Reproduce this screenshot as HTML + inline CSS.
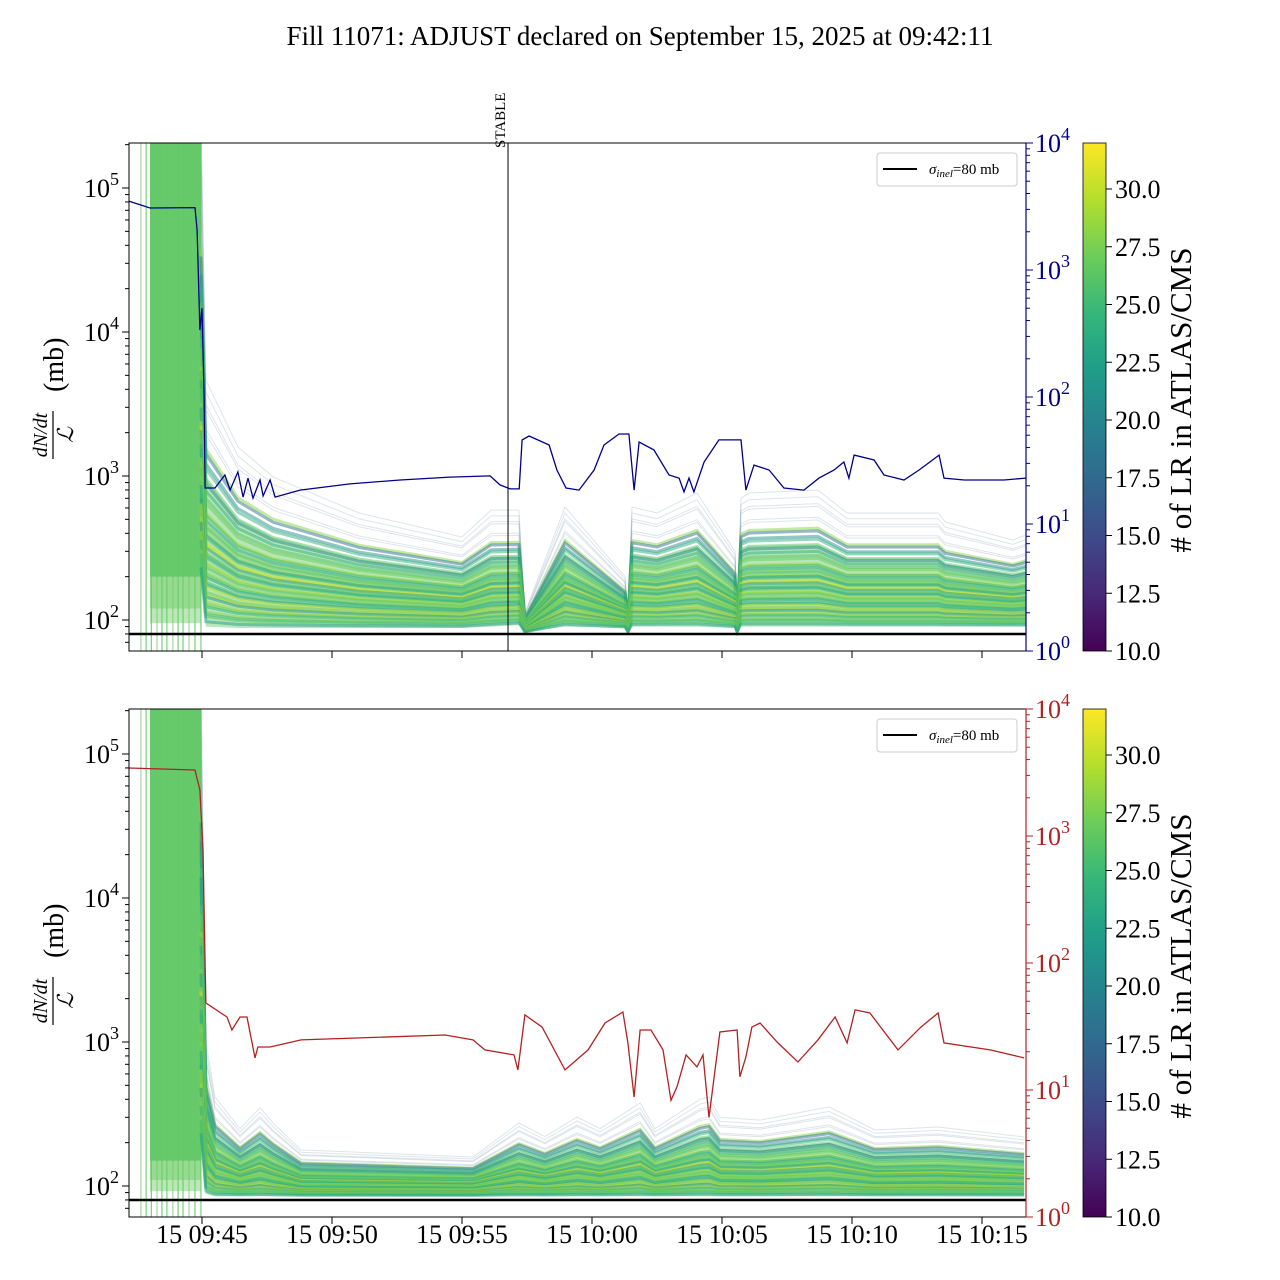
<!DOCTYPE html>
<html><head><meta charset="utf-8"><style>
html,body{margin:0;padding:0;background:#fff}
svg{display:block;font-family:"Liberation Serif",serif}
</style></head><body>
<svg id="chart" width="1280" height="1280" viewBox="0 0 1280 1280" xmlns="http://www.w3.org/2000/svg">
<text x="640" y="45" text-anchor="middle" font-size="27">Fill 11071: ADJUST declared on September 15, 2025 at 09:42:11</text>
<g id="layer"></g>
</svg>
<script>
// ---- data (time in minutes after 09:40) ----
const xTickTimes=[5,10,15,20,25,30,35];
const xTickLabels=["15 09:45","15 09:50","15 09:55","15 10:00","15 10:05","15 10:10","15 10:15"];
const preTimes=[2.65,2.85,3.05,3.27,3.46,3.65,3.88,4.08,4.27,4.5,4.73,4.96];
const preBlockStart=3.0, preBlockEnd=4.96;
const topPreLow=[200,120,95];
const botPreLow=[150,110,92];
const topBandT=[4.96,5.15,6.38,7.73,11.04,15.0,16.12,17.19,17.42,18.96,21.27,21.38,21.54,22.5,24.04,25.5,25.58,25.73,26.04,28.69,29.81,33.31,33.58,36.19,36.69];
const topBandUpper=[3e5,4640,1590,985,553,377,580,580,112,609,200,112,609,553,762,300,112,700,762,800,553,553,480,359,389];
const topBandLow=[200,90,88,88,88,88,90,92,82,90,88,82,90,90,90,88,82,90,90,90,90,90,90,90,90];
const botBandT=[4.96,5.15,5.5,6.46,7.23,7.73,8.81,15.42,17.19,18.19,19.42,20.31,21.85,22.42,24.15,24.5,24.92,26.46,29.12,30.88,33.31,36.62];
const botBandUpper=[3e5,1000,415,250,350,274,178,159,274,220,301,250,377,250,400,415,300,287,354,245,257,219];
const botBandLow=[200,88,85,85,85,85,85,85,85,85,85,85,85,85,85,85,85,85,85,85,85,85];
const fractions=[0.02,0.04,0.06,0.08,0.1,0.12,0.14,0.16,0.18,0.2,0.22,0.24,0.26,0.28,0.3,0.32,0.34,0.36,0.38,0.4,0.43,0.46,0.5,0.55,0.6,0.66,0.72,0.8,0.88,0.95,1.0,0.05,0.09,0.13,0.17,0.21,0.25,0.29,0.33,0.37,0.41,0.45,0.52,0.58,0.64,0.7,0.78,0.9];
const lrValues=[22,26,28,24,29,21,27,30,25,23,28,26,29,24,27,22,30,25,28,26,23,29,27,24,26,21,28,19,17,16,15,25,27,29,23,26,28,24,30,22,27,25,26,20,24,18,17,15];
const blueT=[2.19,3.0,4.73,4.81,4.92,5.0,5.08,5.12,5.5,5.88,6.08,6.38,6.58,6.77,6.96,7.23,7.35,7.62,7.81,8.77,10.69,12.62,14.54,16.08,16.46,16.85,17.2,17.31,17.58,18.35,18.65,19.0,19.5,20.08,20.46,21.04,21.42,21.62,21.81,22.38,22.96,23.35,23.54,23.73,23.92,24.31,24.88,25.73,25.92,26.23,26.81,27.38,28.15,28.73,29.31,29.69,29.88,30.08,30.85,31.23,32.0,32.58,33.35,33.54,34.31,35.85,36.69];
const blueV=[3490,3080,3100,2065,337,500,100,19.2,19.2,24.3,18.5,25.7,16.3,23,16,22.2,16.6,22.2,16.3,18.5,20.7,22.2,23.4,23.9,20.3,18.9,18.9,45.9,49.3,41.9,26.6,19.2,18.5,26.6,41.9,51.1,51.1,18.5,44.2,38.3,24.3,23.0,17.9,23.0,17.9,30.8,45.9,45.9,18.5,29.1,26.6,19.2,18.5,23.0,26.6,30.8,23.0,34.9,31.9,24.3,22.2,26.6,34.9,23.0,22.2,22.2,23.0];
const redT=[2.19,4.73,4.92,5.04,5.12,5.15,5.96,6.15,6.46,6.73,7.04,7.15,7.62,8.81,14.35,15.42,15.88,17.0,17.15,17.42,18.08,18.96,19.85,20.5,21.19,21.38,21.62,21.85,22.27,22.73,23.04,23.27,23.62,24.04,24.27,24.5,24.92,25.58,25.69,25.92,26.15,26.46,27.15,27.92,28.69,29.35,29.81,30.12,30.69,31.77,32.65,33.31,33.54,35.31,36.62];
const redV=[3430,3310,2300,776,100,48.4,37.6,29.7,37.6,37.6,17.9,21.8,21.8,24.8,27.1,24.8,20.7,18.9,14.4,39.0,31.3,14.4,20.7,33.7,41.1,23.5,8.8,29.7,29.7,20.7,8.3,10.6,18.9,15.2,18.9,6.1,28.6,29.7,12.7,18.2,31.3,33.7,23.5,16.6,24.8,37.6,23.5,42.7,40.4,20.7,31.3,40.4,23.5,20.7,17.9];
const stableTime=16.77;
const sigmaInel=80;
const cbTicks=[10,12.5,15,17.5,20,22.5,25,27.5,30];

// ---- scales ----
const X0=129,X1=1026;
const xOf=t=>202+(t-5)*26;
const yL=(v,dy)=>620+dy-(Math.log10(v)-2)*144;
const yR=(v,dy)=>651+dy-Math.log10(v)*127;
const cbY=(v,dy)=>651+dy-(v-10)*(462/20);
const VIR=[[68,1,84],[72,40,120],[62,74,137],[49,104,142],[38,130,142],[31,158,137],[53,183,121],[109,205,89],[180,222,44],[253,231,37]];
function vir(u){u=Math.max(0,Math.min(1,u));const p=u*(VIR.length-1),i=Math.min(Math.floor(p),VIR.length-2),f=p-i;const c=VIR[i].map((a,k)=>Math.round(a+(VIR[i+1][k]-a)*f));return `rgb(${c[0]},${c[1]},${c[2]})`;}
const NS="http://www.w3.org/2000/svg";
const layer=document.getElementById('layer');
function mk(tag,attrs,parent){const e=document.createElementNS(NS,tag);for(const k in attrs)e.setAttribute(k,attrs[k]);(parent||layer).appendChild(e);return e;}

function panel(dy,tBand,upArr,lowArr,preLow,lineT,lineV,lineColor,pname,showXLabels,showStable){
  const g=mk('g',{});
  
  
  const cp=mk('clipPath',{id:'clip'+dy},g);
  mk('rect',{x:X0,y:143+dy,width:X1-X0,height:508},cp);
  const plot=mk('g',{'clip-path':`url(#clip${dy})`},g);
  // pre-ramp vertical lines
  preTimes.forEach((t,i)=>{
    const l=mk('line',{x1:xOf(t),x2:xOf(t),y1:143+dy,y2:651+dy,stroke:i%3===0?'#8fd18a':'#5cc863','stroke-width':1},plot);
    
    
  });
  // pre-ramp dense block
  const xa=xOf(preBlockStart),xb=xOf(preBlockEnd);
  preLow.forEach((v,i)=>{
    const r=mk('rect',{x:xa,y:143+dy,width:xb-xa,height:yL(v,dy)-143-dy,fill:i===0?'#4cbf6b':'#6acb63','fill-opacity':i===0?0.9:0.45},plot);
    
    
  });
  // band fill
  let fd='';
  tBand.forEach((t,k)=>{const lo=Math.log10(lowArr[k]),hi=Math.log10(upArr[k]);fd+=(k?'L':'M')+xOf(t).toFixed(1)+','+yL(Math.pow(10,lo+(hi-lo)*0.6),dy).toFixed(1);});
  for(let k=tBand.length-1;k>=0;k--){fd+='L'+xOf(tBand[k]).toFixed(1)+','+yL(lowArr[k],dy).toFixed(1);}
  const bf=mk('path',{d:fd+'Z',fill:'#5ec962','fill-opacity':0.45},plot);
  
  
  // band lines
  const order=fractions.map((f,i)=>i).sort((a,b)=>fractions[b]-fractions[a]);
  order.forEach(i=>{
    const f=fractions[i];
    let d='';
    tBand.forEach((t,k)=>{
      const lo=Math.log10(lowArr[k]),hi=Math.log10(upArr[k]);
      const v=Math.pow(10,lo+(hi-lo)*f);
      d+=(k?'L':'M')+xOf(t).toFixed(1)+','+yL(v,dy).toFixed(1);
    });
    const col=f>0.75?'rgb(120,150,170)':vir((lrValues[i]-10)/22);
    const p=mk('path',{d:d,fill:'none',stroke:col,'stroke-width':f>0.75?1:3,'stroke-opacity':f>0.75?0.25:0.5},plot);
    
    
  });
  // sigma line
  const s=mk('line',{x1:X0,x2:X1,y1:yL(sigmaInel,dy),y2:yL(sigmaInel,dy),stroke:'#000','stroke-width':2.5},plot);
  
  
  // luminosity line
  let d='';lineT.forEach((t,k)=>{d+=(k?'L':'M')+xOf(t).toFixed(1)+','+yR(lineV[k],dy).toFixed(1);});
  const ll=mk('path',{d:d,fill:'none',stroke:lineColor,'stroke-width':1.3},plot);
  
  
  if(showStable){
    const sl=mk('line',{x1:xOf(stableTime),x2:xOf(stableTime),y1:143+dy,y2:651+dy,stroke:'#000','stroke-width':1},g);
    
    
    const st=mk('text',{x:0,y:0,'font-size':15,transform:`translate(${xOf(stableTime)-3},148) rotate(-90)`},g);
    st.textContent='STABLE';
    
    
  }
  // frame
  mk('rect',{x:X0,y:143+dy,width:X1-X0,height:508,fill:'none',stroke:'#000','stroke-width':1},g);
  // x ticks
  xTickTimes.forEach((t,i)=>{
    mk('line',{x1:xOf(t),x2:xOf(t),y1:651+dy,y2:658+dy,stroke:'#000'},g);
    if(showXLabels){const tx=mk('text',{x:xOf(t),y:1243,'text-anchor':'middle','font-size':26},g);tx.textContent=xTickLabels[i];
      }
  });
  // left y ticks
  for(let e=1;e<=5;e++){for(let m=1;m<10;m++){const v=m*Math.pow(10,e);const y=yL(v,dy);if(y<143+dy||y>651+dy)continue;
    mk('line',{x1:X0-(m===1?7:4),x2:X0,y1:y,y2:y,stroke:'#000'},g);
    if(m===1){const tx=mk('text',{x:X0-10,y:y+9,'text-anchor':'end','font-size':26},g);
      tx.innerHTML=`10<tspan dy="-12" font-size="18">${e}</tspan>`;
      }}}
  // right y ticks
  for(let e=0;e<=4;e++){for(let m=1;m<10;m++){const v=m*Math.pow(10,e);const y=yR(v,dy);if(y<142+dy||y>652+dy)continue;
    mk('line',{x1:X1,x2:X1+(m===1?7:4),y1:y,y2:y,stroke:lineColor},g);
    if(m===1){const tx=mk('text',{x:X1+9,y:y+9,'font-size':26,fill:lineColor},g);
      tx.innerHTML=`10<tspan dy="-12" font-size="18">${e}</tspan>`;
      }}}
  mk('line',{x1:X1,x2:X1,y1:143+dy,y2:651+dy,stroke:lineColor,'stroke-width':1.2},g);
  // y label
  const yl=mk('g',{transform:`translate(55,${397+dy}) rotate(-90)`},g);
  
  const n=mk('text',{x:-38,y:-8,'text-anchor':'middle','font-size':20,'font-style':'italic'},yl);n.textContent='dN/dt';
  mk('line',{x1:-62,x2:-14,y1:-2,y2:-2,stroke:'#000','stroke-width':1.2},yl);
  const dd=mk('text',{x:-38,y:18,'text-anchor':'middle','font-size':22,'font-style':'italic'},yl);dd.textContent='ℒ';
  const mb=mk('text',{x:5,y:8,'font-size':28},yl);mb.textContent='(mb)';
  // legend
  const lg=mk('g',{},g);
  mk('rect',{x:877,y:153+dy,width:140,height:33,rx:3,fill:'#fff',stroke:'#ccc'},lg);
  mk('line',{x1:883,x2:917,y1:169+dy,y2:169+dy,stroke:'#000','stroke-width':2},lg);
  const lt=mk('text',{x:929,y:174+dy,'font-size':15},lg);
  lt.innerHTML=`<tspan font-style="italic">σ</tspan><tspan font-size="11" dy="3" font-style="italic">inel</tspan><tspan dy="-3">=80 mb</tspan>`;
  // colorbar
  const cb=mk('g',{},g);
  const gid='vg'+dy;const lgd=mk('linearGradient',{id:gid,x1:0,y1:1,x2:0,y2:0},cb);
  VIR.forEach((c,i)=>mk('stop',{offset:(i/(VIR.length-1)),'stop-color':`rgb(${c})`},lgd));
  mk('rect',{x:1083,y:143+dy,width:23,height:508,fill:`url(#${gid})`,stroke:'#000','stroke-width':0.8},cb);
  cbTicks.forEach(v=>{const y=cbY(v,dy);mk('line',{x1:1106,x2:1112,y1:y,y2:y,stroke:'#000'},cb);
    const tx=mk('text',{x:1115,y:y+9,'font-size':26},cb);tx.textContent=v.toFixed(1);
    });
  const ct=mk('text',{x:0,y:0,'font-size':31,'text-anchor':'middle',transform:`translate(1191,${400+dy}) rotate(-90)`},cb);
  ct.textContent='# of LR in ATLAS/CMS';
  
}
panel(0,topBandT,topBandUpper,topBandLow,topPreLow,blueT,blueV,'#00008b','top',false,true);
panel(566,botBandT,botBandUpper,botBandLow,botPreLow,redT,redV,'#b22222','bottom',true,false);
</script>
</body></html>
